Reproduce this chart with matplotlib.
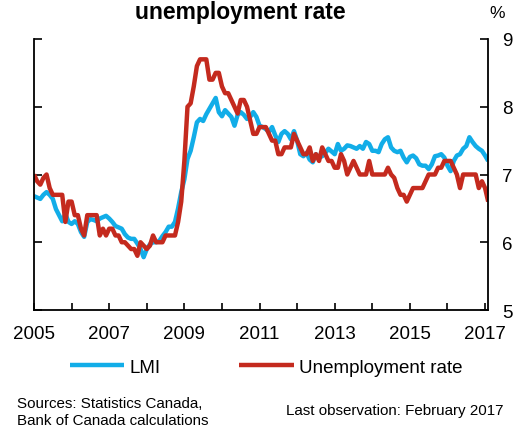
import numpy as np
import matplotlib
matplotlib.use("Agg")
import matplotlib.pyplot as plt

plt.rcParams['font.family'] = ['Liberation Sans', 'DejaVu Sans']

# monthly values, Jan 2005 .. Feb 2017
lmi = [6.68, 6.66, 6.64, 6.70, 6.74, 6.70, 6.64, 6.49, 6.40, 6.31, 6.42, 6.30,
       6.27, 6.31, 6.27, 6.15, 6.08, 6.30, 6.34, 6.33, 6.31, 6.35, 6.37, 6.39,
       6.35, 6.30, 6.24, 6.22, 6.20, 6.12, 6.07, 6.05, 6.05, 5.98, 5.90, 5.78,
       5.90, 5.97, 6.00, 6.00, 6.02, 6.09, 6.15, 6.23, 6.23, 6.30, 6.50, 6.74,
       6.93, 7.23, 7.35, 7.55, 7.77, 7.82, 7.79, 7.89, 7.97, 8.05, 8.13, 7.92,
       7.86, 7.95, 7.90, 7.85, 7.72, 7.88, 7.92, 7.88, 7.82, 7.85, 7.92, 7.85,
       7.72, 7.70, 7.67, 7.63, 7.70, 7.58, 7.48, 7.60, 7.64, 7.60, 7.52, 7.64,
       7.50, 7.30, 7.27, 7.32, 7.22, 7.18, 7.30, 7.25, 7.27, 7.32, 7.38, 7.34,
       7.30, 7.45, 7.35, 7.38, 7.43, 7.42, 7.40, 7.38, 7.42, 7.38, 7.48, 7.45,
       7.35, 7.35, 7.33, 7.45, 7.52, 7.55, 7.40, 7.35, 7.33, 7.35, 7.25, 7.18,
       7.26, 7.28, 7.24, 7.15, 7.13, 7.13, 7.08, 7.15, 7.27, 7.28, 7.30, 7.25,
       7.13, 7.05, 7.20, 7.28, 7.30, 7.38, 7.42, 7.55, 7.48, 7.42, 7.38, 7.35,
       7.28, 7.20]

unemp = [7.00, 6.90, 6.85, 6.95, 7.00, 6.80, 6.70, 6.70, 6.70, 6.70, 6.30, 6.60,
         6.60, 6.40, 6.40, 6.20, 6.10, 6.40, 6.40, 6.40, 6.40, 6.10, 6.20, 6.10,
         6.20, 6.20, 6.10, 6.10, 6.00, 6.00, 5.95, 5.90, 5.90, 5.80, 6.00, 5.95,
         5.90, 5.95, 6.10, 6.00, 6.00, 6.00, 6.10, 6.10, 6.10, 6.10, 6.30, 6.60,
         7.20, 8.00, 8.05, 8.30, 8.60, 8.70, 8.70, 8.70, 8.40, 8.40, 8.50, 8.50,
         8.30, 8.20, 8.20, 8.10, 8.00, 7.90, 8.10, 8.10, 8.00, 7.80, 7.60, 7.60,
         7.70, 7.70, 7.70, 7.60, 7.50, 7.50, 7.30, 7.30, 7.40, 7.40, 7.40, 7.60,
         7.50, 7.40, 7.30, 7.30, 7.40, 7.20, 7.30, 7.20, 7.40, 7.30, 7.20, 7.20,
         7.10, 7.10, 7.30, 7.20, 7.00, 7.10, 7.20, 7.10, 7.00, 7.00, 7.00, 7.20,
         7.00, 7.00, 7.00, 7.00, 7.00, 7.10, 7.00, 6.95, 6.80, 6.70, 6.70, 6.60,
         6.70, 6.80, 6.80, 6.80, 6.80, 6.90, 7.00, 7.00, 7.00, 7.10, 7.10, 7.20,
         7.20, 7.20, 7.10, 7.00, 6.80, 7.00, 7.00, 7.00, 7.00, 7.00, 6.80, 6.90,
         6.80, 6.60]

dates = 2005 + np.arange(len(lmi)) / 12.0
year_ticks = list(range(2005, 2018))
year_labels = [str(y) if (y - 2005) % 2 == 0 else '' for y in year_ticks]

fig = plt.figure(figsize=(5.17, 4.31), dpi=100)
ax = fig.add_axes([0.0658, 0.2784, 0.8785, 0.6288])

ax.plot(dates, lmi, color='#12ADE8', lw=3.2, solid_capstyle='butt', label='LMI')
ax.plot(dates, unemp, color='#C42A1E', lw=3.2, solid_capstyle='butt', label='Unemployment rate')

ax.set_xlim(2005, dates[-1])
ax.set_ylim(5, 9)
ax.set_xticks(year_ticks)
ax.set_xticklabels(year_labels)
ax.set_yticks([5, 6, 7, 8, 9])

ax.spines['top'].set_visible(False)
for s in ['left', 'right', 'bottom']:
    ax.spines[s].set_linewidth(1.3)

ax.tick_params(axis='x', direction='in', length=5, width=1.2, labelsize=13.5, pad=11)
ax.tick_params(axis='y', direction='in', length=6, width=1.2, labelsize=13.5,
               left=True, right=True, labelleft=False, labelright=True, pad=10)

fig.text(0.465, 0.998, 'unemployment rate', ha='center', va='top',
         fontsize=16.5, fontweight='bold')
fig.text(0.962, 0.968, '%', ha='center', va='center', fontsize=12.5)

fig.legend(loc='center', bbox_to_anchor=(0.515, 0.146), ncol=2, frameon=False,
           fontsize=13.5, handlelength=2.9, columnspacing=4.2, handletextpad=0.3)

fig.text(0.033, 0.006, 'Sources: Statistics Canada,\nBank of Canada calculations',
         ha='left', va='bottom', fontsize=10.9, linespacing=1.35)
fig.text(0.974, 0.03, 'Last observation: February 2017', ha='right', va='bottom',
         fontsize=10.9)

fig.savefig('out.png', dpi=100)
